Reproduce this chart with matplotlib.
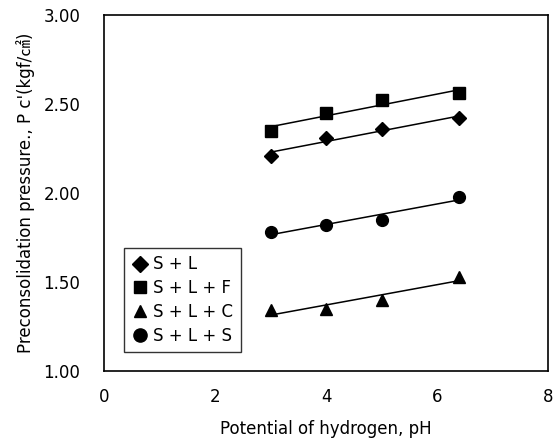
import matplotlib.pyplot as plt
import numpy as np

plt.rcParams['font.family'] = ['DejaVu Sans', 'Noto Sans CJK KR']

ph = [3, 4, 5, 6.4]
s_l = [2.21, 2.31, 2.36, 2.42]
s_l_f = [2.35, 2.45, 2.52, 2.56]
s_l_c = [1.34, 1.35, 1.40, 1.53]
s_l_s = [1.78, 1.82, 1.85, 1.98]

series = [
    ("S + L", s_l, "D", 7),
    ("S + L + F", s_l_f, "s", 8),
    ("S + L + C", s_l_c, "^", 8),
    ("S + L + S", s_l_s, "o", 8.5),
]

fig = plt.figure(figsize=(5.55, 4.46), dpi=100)
ax = fig.add_axes([0.1874, 0.1682, 0.80, 0.7982])

x = np.array(ph)
xf = np.linspace(3, 6.4, 50)
for name, vals, mk, ms in series:
    ax.plot(ph, vals, linestyle='none', marker=mk, markersize=ms, color='black', label=name)
    # linear trend line
    b, a = np.polyfit(x, vals, 1)
    ax.plot(xf, a + b * xf, color='black', linewidth=1.1)

ax.set_xlim(0, 8)
ax.set_ylim(1.0, 3.0)
ax.set_xticks([0, 2, 4, 6, 8])
ax.set_yticks([1.0, 1.5, 2.0, 2.5, 3.0])
ax.set_yticklabels(["1.00", "1.50", "2.00", "2.50", "3.00"])
ax.tick_params(length=0, labelsize=12, pad=12)
ax.tick_params(axis='y', pad=17)
for sp in ax.spines.values():
    sp.set_linewidth(1.2)

ax.set_xlabel("Potential of hydrogen, pH", fontsize=12, labelpad=10)
ax.set_ylabel("Preconsolidation pressure., P c'(kgf/㎠)", fontsize=12, labelpad=6)

handles = [plt.Line2D([], [], linestyle='none', marker=mk, markersize=ms + 1, color='black') for _, _, mk, ms in series]
leg = ax.legend(handles, [s[0] for s in series], loc='lower left', bbox_to_anchor=(0.045, 0.052),
                fontsize=12, frameon=True, fancybox=False, edgecolor='black',
                handletextpad=0.3, handlelength=1.0, borderpad=0.45, labelspacing=0.35, borderaxespad=0)
leg.get_frame().set_linewidth(1.0)

fig.savefig("out.png", dpi=100)
